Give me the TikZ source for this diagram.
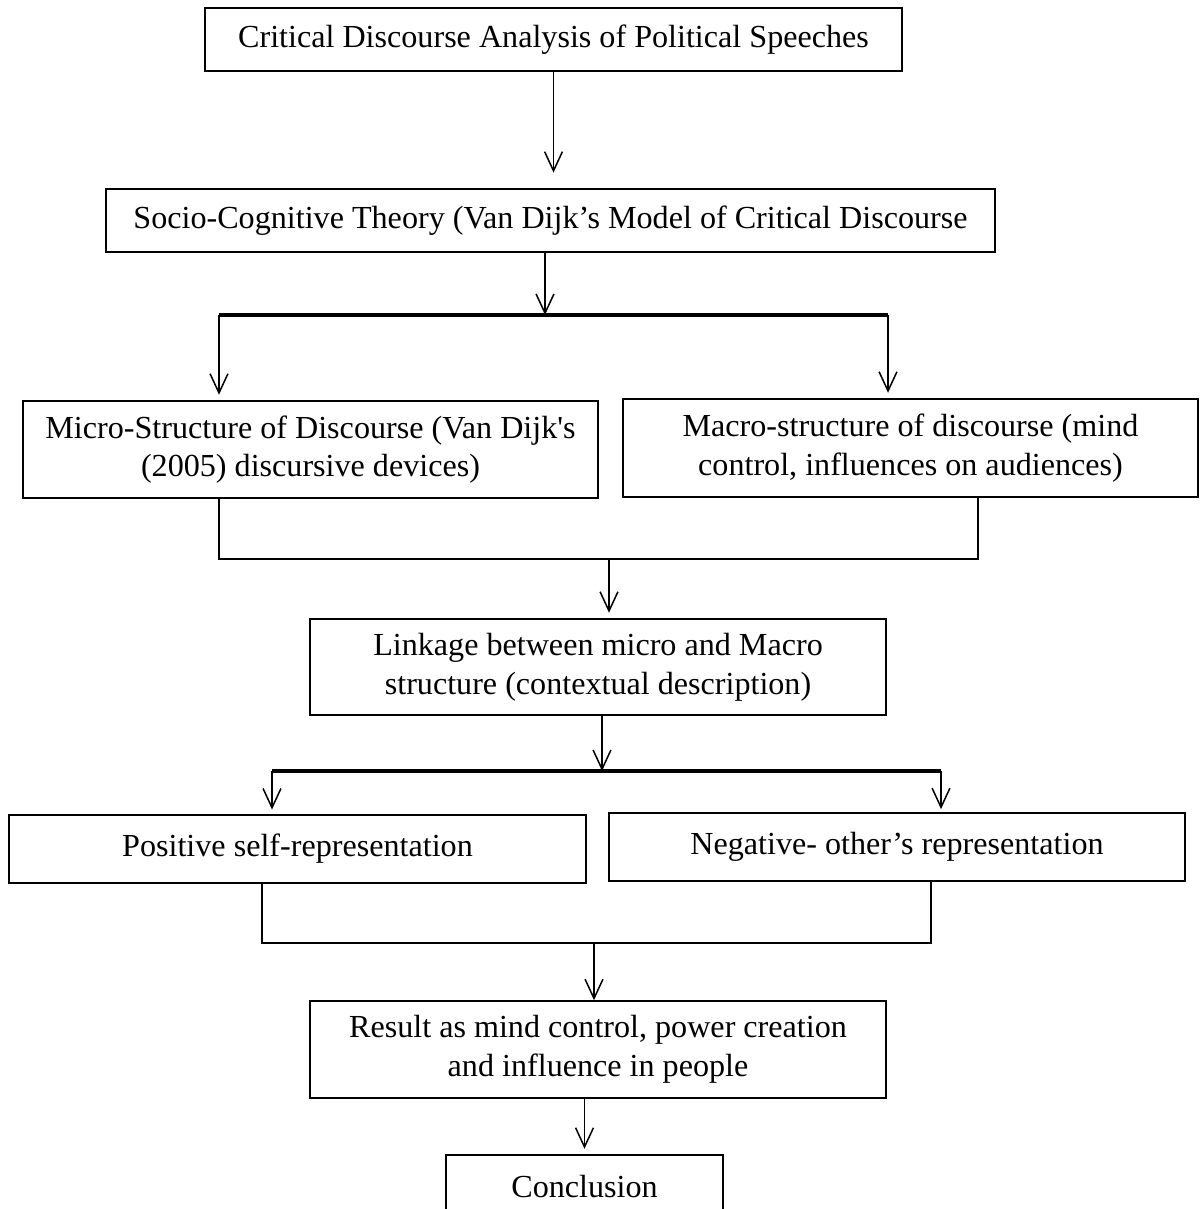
\documentclass[tikz,border=0pt]{standalone}
\usepackage{fontspec}
\setmainfont{Liberation Serif}
\usetikzlibrary{arrows.meta}

\tikzset{
  blk/.style={draw, line width=0.55pt, align=center, inner sep=0pt,
    font=\fontsize{11.7}{14.1}\selectfont},
  wh/.style 2 args={minimum width=#1*0.0128cm, minimum height=#2*0.0128cm},
  arr/.style={-{Straight Barb[length=7pt,width=6.5pt]}, line width=0.55pt},
  bar/.style={line width=1.2pt}
}

\begin{document}
\begin{tikzpicture}[x=0.0128cm, y=-0.0128cm]
  \useasboundingbox (0,0) rectangle (1202,1209);
  \clip (0,0) rectangle (1202,1209);

  \node[blk, wh={697}{63}] (title) at (553.5,39.5) {Critical Discourse Analysis of Political Speeches};
  \node[blk, wh={889}{63}] (theory) at (550.5,220.5) {Socio-Cognitive Theory (Van Dijk’s Model of Critical Discourse};
  \node[blk, wh={575}{97}] (micro) at (310.5,449.5) {Micro-Structure of Discourse (Van Dijk\textquotesingle s\\(2005) discursive devices)};
  \node[blk, wh={575}{98}] (macro) at (910.5,448) {Macro-structure of discourse (mind\\control, influences on audiences)};
  \node[blk, wh={576}{96}] (linkage) at (598,667) {Linkage between micro and Macro\\structure (contextual description)};
  \node[blk, wh={577}{68}] (positive) at (297.5,849) {Positive self-representation};
  \node[blk, wh={576}{68}] (negative) at (897,847) {Negative- other’s representation};
  \node[blk, wh={576}{97}] (result) at (598,1049.5) {Result as mind control, power creation\\and influence in people};
  \node[blk, wh={277}{62}] (conclusion) at (584.5,1186) {Conclusion};

  % forks and joins
  \coordinate (fork1) at (545,315);
  \coordinate (fork1l) at (219,315);
  \coordinate (fork1r) at (888,315);
  \coordinate (join1l) at (219,559);
  \coordinate (join1r) at (978,559);
  \coordinate (join1) at (609,559);
  \coordinate (fork2) at (602,771);
  \coordinate (fork2l) at (272,771);
  \coordinate (fork2r) at (941,771);
  \coordinate (join2l) at (262,943);
  \coordinate (join2r) at (931,943);
  \coordinate (join2) at (594,943);

  \draw[arr, shorten >=0.2cm] (title.south) -- (title.south |- theory.north);
  \draw[arr] (theory.south -| fork1) -- (fork1);
  \draw[bar] (fork1l) -- (fork1r);
  \draw[arr, shorten >=0.07cm] (fork1l) -- (fork1l |- micro.north);
  \draw[arr, shorten >=0.07cm] (fork1r) -- (fork1r |- macro.north);

  \draw (micro.south -| join1l) -- (join1l) -- (join1r) -- (macro.south -| join1r);
  \draw[arr, shorten >=0.07cm] (join1) -- (join1 |- linkage.north);

  \draw[arr] (linkage.south -| fork2) -- (fork2);
  \draw[bar] (fork2l) -- (fork2r);
  \draw[arr, shorten >=0.06cm] (fork2l) -- (fork2l |- positive.north);
  \draw[arr, shorten >=0.04cm] (fork2r) -- (fork2r |- negative.north);

  \draw (positive.south -| join2l) -- (join2l) -- (join2r) -- (negative.south -| join2r);
  \draw[arr] (join2) -- (join2 |- result.north);

  \draw[arr, shorten >=0.07cm] (result.south -| conclusion) -- (conclusion);
\end{tikzpicture}
\end{document}
